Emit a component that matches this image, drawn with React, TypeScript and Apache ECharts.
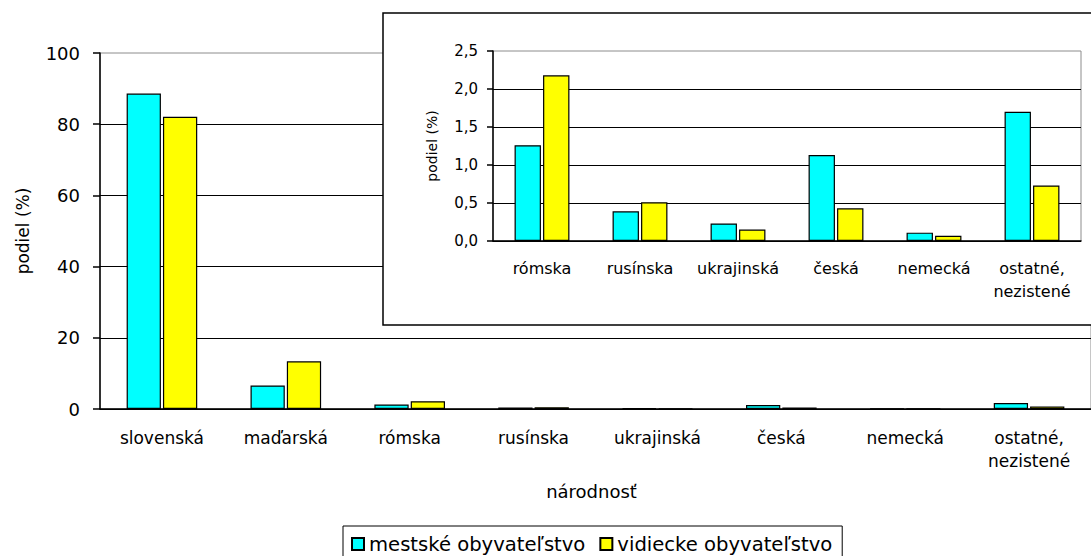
import React, { useEffect, useRef } from "react";
import * as echarts from "echarts";

const categories = [
  "slovenská",
  "maďarská",
  "rómska",
  "rusínska",
  "ukrajinská",
  "česká",
  "nemecká",
  "ostatné,\nnezistené",
];
const urbanValues = [88.6, 6.6, 1.26, 0.39, 0.23, 1.13, 0.11, 1.7];
const ruralValues = [82.1, 13.4, 2.18, 0.51, 0.15, 0.43, 0.07, 0.73];

const insetCategories = categories.slice(2);
const insetUrban = urbanValues.slice(2);
const insetRural = ruralValues.slice(2);

const seriesNames = ["mestské obyvateľstvo", "vidiecke obyvateľstvo"];
const mainTicks = { min: 0, max: 100, interval: 20 };
const insetTicks = { min: 0, max: 2.5, interval: 0.5 };
const xAxisTitle = "národnosť";
const yAxisTitle = "podiel (%)";

const FONT = "DejaVu Sans";
const CYAN = "#00FFFF";
const YELLOW = "#FFFF00";

export default function App() {
  const ref = useRef<HTMLDivElement>(null);
  useEffect(() => {
    if (!ref.current) return;
    const chart = echarts.init(ref.current, undefined, { renderer: "svg" });
    const barStyle = (color: string) => ({
      color,
      borderColor: "#000",
      borderWidth: 1.2,
    });
    const option: any = {
      animation: false,
      backgroundColor: "#fff",
      textStyle: { fontFamily: FONT, color: "#000" },
      legend: {
        data: seriesNames,
        left: 343,
        top: 526,
        orient: "horizontal",
        padding: [8, 10, 20, 8],
        itemGap: 14,
        itemWidth: 12,
        itemHeight: 12,
        icon: "rect",
        borderColor: "#000",
        borderWidth: 1,
        backgroundColor: "#fff",
        textStyle: { fontFamily: FONT, fontSize: 19.6, color: "#000", padding: [0, 0, 0, 0] },
      },
      graphic: [
        {
          type: "rect",
          z: 50,
          shape: { x: 383, y: 13, width: 760, height: 312 },
          style: { fill: "#fff", stroke: "#000", lineWidth: 1.5 },
        },
      ],
      grid: [
        {
          left: 100,
          top: 53,
          width: 992,
          height: 356,
          show: true,
          borderColor: "#8c8c8c",
          borderWidth: 1,
          z: 0,
        },
        {
          left: 493,
          top: 51,
          width: 588,
          height: 190,
          show: true,
          borderColor: "#8c8c8c",
          borderWidth: 1,
          z: 60,
        },
      ],
      xAxis: [
        {
          type: "category",
          gridIndex: 0,
          data: categories,
          name: xAxisTitle,
          nameLocation: "middle",
          nameGap: 73,
          nameTextStyle: { fontFamily: FONT, fontSize: 18, color: "#000", padding: [0, 8, 0, 0] },
          axisLine: { lineStyle: { color: "#000", width: 1.5 } },
          axisTick: { length: 6, lineStyle: { color: "#000", width: 1.5 } },
          axisLabel: {
            fontFamily: FONT,
            fontSize: 17,
            color: "#000",
            margin: 17,
            lineHeight: 23,
            interval: 0,
          },
        },
        {
          type: "category",
          gridIndex: 1,
          data: insetCategories,
          z: 60,
          axisLine: { lineStyle: { color: "#000", width: 1.5 } },
          axisTick: { length: 6, lineStyle: { color: "#000", width: 1.5 } },
          axisLabel: {
            fontFamily: FONT,
            fontSize: 16,
            color: "#000",
            margin: 16,
            lineHeight: 23,
            interval: 0,
          },
        },
      ],
      yAxis: [
        {
          type: "value",
          gridIndex: 0,
          min: mainTicks.min,
          max: mainTicks.max,
          interval: mainTicks.interval,
          name: yAxisTitle,
          nameLocation: "middle",
          nameRotate: 90,
          nameGap: 69,
          nameTextStyle: { fontFamily: FONT, fontSize: 17, color: "#000" },
          axisLine: { show: true, lineStyle: { color: "#000", width: 1.5 } },
          axisTick: { show: true, length: 7, lineStyle: { color: "#000", width: 1.5 } },
          axisLabel: { fontFamily: FONT, fontSize: 18, color: "#000", margin: 20 },
          splitLine: {
            show: true,
            showMaxLine: false,
            lineStyle: { color: "#000", width: 1 },
          },
        },
        {
          type: "value",
          gridIndex: 1,
          z: 60,
          min: insetTicks.min,
          max: insetTicks.max,
          interval: insetTicks.interval,
          name: yAxisTitle,
          nameLocation: "middle",
          nameRotate: 90,
          nameGap: 54,
          nameTextStyle: { fontFamily: FONT, fontSize: 14, color: "#000" },
          axisLine: { show: true, lineStyle: { color: "#000", width: 1.5 } },
          axisTick: { show: true, length: 6, lineStyle: { color: "#000", width: 1.5 } },
          axisLabel: {
            fontFamily: FONT,
            fontSize: 15,
            color: "#000",
            margin: 15,
            formatter: (v: number) => v.toFixed(1).replace(".", ","),
          },
          splitLine: {
            show: true,
            showMaxLine: false,
            lineStyle: { color: "#000", width: 1 },
          },
        },
      ],
      series: [
        {
          name: seriesNames[0],
          type: "bar",
          xAxisIndex: 0,
          yAxisIndex: 0,
          data: urbanValues,
          barCategoryGap: "43%",
          barGap: "6%",
          itemStyle: barStyle(CYAN),
          z: 2,
        },
        {
          name: seriesNames[1],
          type: "bar",
          xAxisIndex: 0,
          yAxisIndex: 0,
          data: ruralValues,
          barCategoryGap: "43%",
          barGap: "6%",
          itemStyle: barStyle(YELLOW),
          z: 2,
        },
        {
          name: seriesNames[0],
          type: "bar",
          xAxisIndex: 1,
          yAxisIndex: 1,
          data: insetUrban,
          barCategoryGap: "44%",
          barGap: "8%",
          itemStyle: barStyle(CYAN),
          z: 70,
        },
        {
          name: seriesNames[1],
          type: "bar",
          xAxisIndex: 1,
          yAxisIndex: 1,
          data: insetRural,
          barCategoryGap: "44%",
          barGap: "8%",
          itemStyle: barStyle(YELLOW),
          z: 70,
        },
      ],
    };
    chart.setOption(option);
    return () => chart.dispose();
  }, []);
  return (
    <div
      ref={ref}
      style={{ position: "fixed", left: 0, top: 0, width: 1091, height: 556, background: "#fff" }}
    />
  );
}
